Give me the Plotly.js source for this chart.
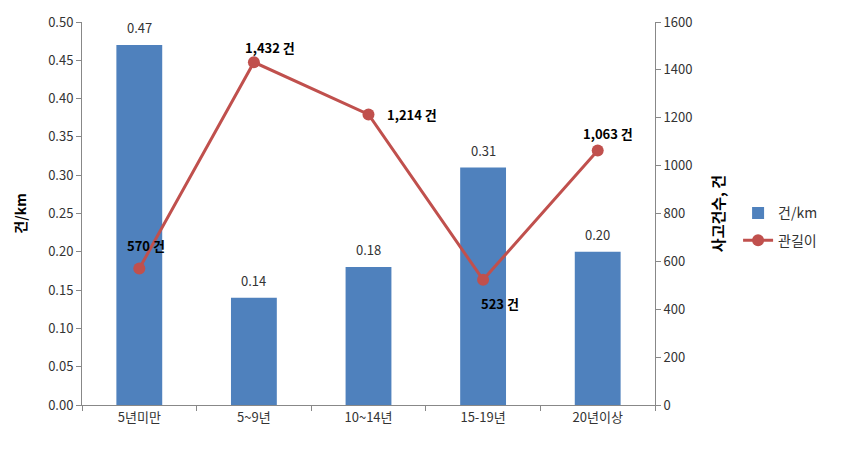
<!DOCTYPE html>
<html>
<head>
<meta charset="utf-8">
<script src="https://cdn.plot.ly/plotly-3.0.1.min.js"></script>
<style>html,body{margin:0;padding:0;background:#fff}#chart{width:854px;height:450px}</style>
</head>
<body>
<div id="chart"></div>
<script>
const categories = ["5년미만", "5~9년", "10~14년", "15-19년", "20년이상"];
const ratePerKm = [0.47, 0.14, 0.18, 0.31, 0.20];
const accidentCounts = [570, 1432, 1214, 523, 1063];
const countLabels = ["570 건", "1,432 건", "1,214 건", "523 건", "1,063 건"];
const countLabelShiftX = [7, 16, 43, 17, 10];
const countLabelShiftY = [23, 15, 0, -24, 17];

const font = "'Noto Sans CJK KR', 'Noto Sans', sans-serif";

const traces = [
  {
    type: "bar",
    name: "건/km",
    legendgroup: "a",
    x: categories,
    y: ratePerKm,
    marker: {color: "#4F81BD"},
    width: 0.4,
    hoverinfo: "x+y"
  },
  {
    type: "scatter",
    mode: "lines+markers",
    name: "관길이",
    legendgroup: "b",
    x: categories,
    y: accidentCounts,
    yaxis: "y2",
    line: {color: "#C0504D", width: 3},
    marker: {color: "#C0504D", size: 12},
    cliponaxis: false
  }
];

const annotations = [];
categories.forEach((c, i) => {
  annotations.push({
    x: c, y: ratePerKm[i], xref: "x", yref: "y",
    text: ratePerKm[i].toFixed(2), showarrow: false,
    yanchor: "bottom", yshift: 6,
    font: {family: font, size: 13, color: "#333333"}
  });
  annotations.push({
    x: c, y: accidentCounts[i], xref: "x", yref: "y2",
    text: countLabels[i], showarrow: false,
    xanchor: "center", yanchor: "middle",
    xshift: countLabelShiftX[i], yshift: countLabelShiftY[i],
    font: {family: font, size: 13, color: "#000000", weight: "bold"}
  });
});

const layout = {
  width: 854,
  height: 450,
  margin: {l: 82, r: 199, t: 22, b: 45},
  paper_bgcolor: "#ffffff",
  plot_bgcolor: "#ffffff",
  font: {family: font, size: 12, color: "#333333"},
  showlegend: true,
  legend: {
    x: 1.145, y: 0.465, xanchor: "left", yanchor: "middle",
    font: {family: font, size: 14, color: "#333333"},
    bgcolor: "rgba(0,0,0,0)",
    itemwidth: 30,
    traceorder: "grouped",
    tracegroupgap: 6
  },
  annotations: annotations,
  xaxis: {
    type: "category",
    showgrid: false,
    showline: true,
    linecolor: "#888888",
    linewidth: 1,
    ticks: "outside",
    tickson: "boundaries",
    ticklen: 5,
    tickcolor: "#888888",
    tickfont: {family: font, size: 13, color: "#333333"},
    zeroline: false
  },
  yaxis: {
    range: [0, 0.5],
    dtick: 0.05,
    tickformat: ".2f",
    showgrid: false,
    showline: true,
    linecolor: "#888888",
    ticks: "outside",
    ticklen: 5,
    tickcolor: "#888888",
    zeroline: false,
    tickfont: {family: font, size: 13, color: "#333333"},
    title: {text: "건/km", font: {family: font, size: 14, color: "#000000", weight: "bold"}, standoff: 18}
  },
  yaxis2: {
    overlaying: "y",
    side: "right",
    range: [0, 1600],
    dtick: 200,
    showgrid: false,
    showline: true,
    linecolor: "#888888",
    ticks: "outside",
    ticklen: 5,
    tickcolor: "#888888",
    zeroline: false,
    tickfont: {family: font, size: 13, color: "#333333"},
    title: {text: "사고건수, 건", font: {family: font, size: 15, color: "#000000", weight: "bold"}, standoff: 22}
  }
};

Plotly.newPlot("chart", traces, layout, {displayModeBar: false, staticPlot: true});
</script>
</body>
</html>
